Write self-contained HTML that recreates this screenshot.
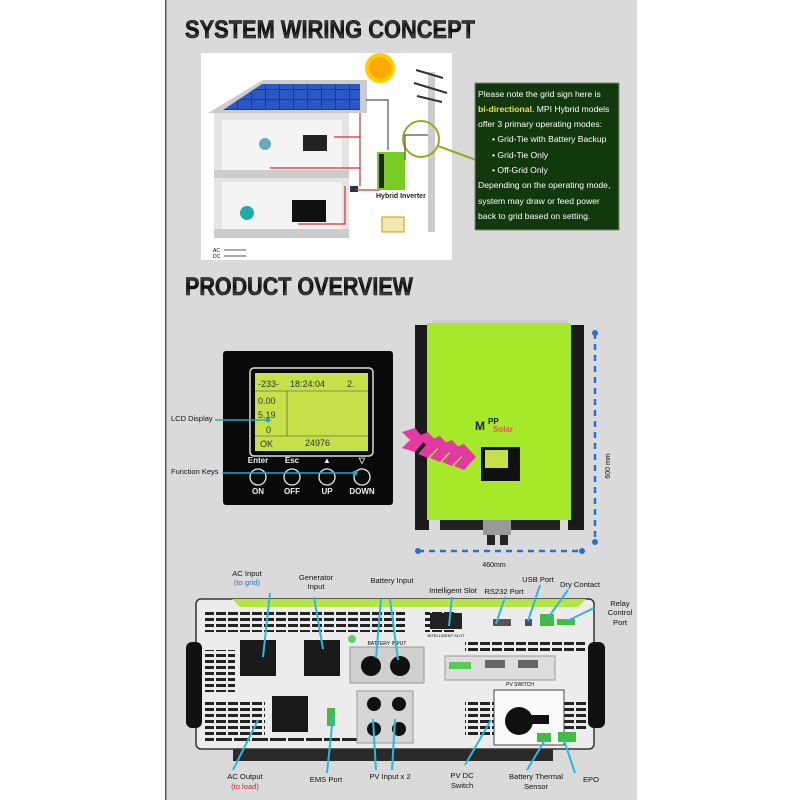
<!DOCTYPE html>
<html><head><meta charset="utf-8"><style>
html,body{margin:0;padding:0;background:#fff}
svg{display:block}
text{font-family:"Liberation Sans",Arial,sans-serif}
</style></head><body>
<svg width="800" height="800" viewBox="0 0 800 800" xmlns="http://www.w3.org/2000/svg">
<defs>
<pattern id="vent" width="12" height="6" patternUnits="userSpaceOnUse"><rect width="10" height="3" fill="#222"/></pattern>
<pattern id="vent2" width="18" height="6" patternUnits="userSpaceOnUse"><rect width="16" height="3" fill="#222"/></pattern>
<linearGradient id="title" x1="0" y1="0" x2="0" y2="1"><stop offset="0" stop-color="#555"/><stop offset="0.5" stop-color="#111"/><stop offset="1" stop-color="#777"/></linearGradient>
<pattern id="solar" width="14" height="10" patternUnits="userSpaceOnUse"><rect width="14" height="10" fill="#1a3a8c"/><rect width="13" height="9" fill="#2b58c4"/></pattern>
</defs>
<rect x="0" y="0" width="800" height="800" fill="#fff"/>
<rect x="165" y="0" width="472" height="800" fill="#dadada"/>
<rect x="165" y="0" width="1.5" height="800" fill="#555"/>

<text x="185" y="38" font-size="25" font-weight="bold" fill="url(#title)" stroke="#000" stroke-width="0.6" textLength="290" lengthAdjust="spacingAndGlyphs">SYSTEM WIRING CONCEPT</text>
<text x="185" y="295" font-size="25" font-weight="bold" fill="url(#title)" stroke="#000" stroke-width="0.6" textLength="228" lengthAdjust="spacingAndGlyphs">PRODUCT OVERVIEW</text>

<rect x="201" y="53" width="251" height="207" fill="#fff"/>
<polygon points="208,113 263,80 367,80 367,113" fill="#ccc"/>
<polygon points="223,110 262,84 360,84 360,110" fill="url(#solar)"/>
<rect x="214" y="113" width="135" height="125" fill="#e4e4e4"/>
<rect x="222" y="120" width="120" height="55" fill="#f4f4f4"/>
<rect x="222" y="182" width="120" height="50" fill="#f4f4f4"/>
<rect x="214" y="170" width="135" height="8" fill="#ccc"/>
<rect x="214" y="229" width="135" height="9" fill="#ccc"/>
<rect x="303" y="135" width="24" height="16" fill="#222"/>
<rect x="292" y="200" width="34" height="22" fill="#111"/>
<circle cx="247" cy="213" r="7" fill="#2aa"/>
<circle cx="265" cy="144" r="6" fill="#6ab"/>
<rect x="350" y="186" width="8" height="6" fill="#333"/>
<path d="M360,113 V174 M334,137 H360 M270,168 H360 M360,174 V186 M345,186 V224 H298 M356,190 H380 M345,224 H330" stroke="#c33" stroke-width="1.2" fill="none"/>
<circle cx="380" cy="68" r="15" fill="#fc0"/>
<circle cx="380" cy="68" r="11" fill="#fa0"/>
<rect x="377" y="152" width="28" height="38" fill="#7c2"/>
<rect x="379" y="154" width="5" height="34" fill="#222"/>
<text x="376" y="198" font-size="7" font-weight="bold" fill="#222">Hybrid Inverter</text>
<rect x="382" y="217" width="22" height="15" fill="#f3e8b0" stroke="#c90"/>
<rect x="428" y="72" width="7" height="160" fill="#ccc"/>
<path d="M416,70 L443,78 M414,83 L447,93 M417,96 L442,102" stroke="#333" stroke-width="2"/>
<circle cx="421" cy="139" r="18" fill="none" stroke="#9a2" stroke-width="2"/>
<path d="M438,146 L476,160" stroke="#9a2" stroke-width="2"/>
<path d="M366,100 H388 V150 M405,160 V135 H428" stroke="#555" stroke-width="1.2" fill="none"/>
<text x="213" y="252" font-size="5">AC</text><text x="213" y="258" font-size="5">DC</text>
<path d="M224,250 H246 M224,256 H246" stroke="#555"/>

<rect x="475" y="83" width="144" height="147" fill="#12380e" stroke="#7a8a6a"/>
<g font-size="8.6" fill="#fff">
<text x="478" y="97">Please note the grid sign here is</text>
<text x="478" y="112"><tspan fill="#e8e05a" font-weight="bold">bi-directional</tspan>.  MPI Hybrid models</text>
<text x="478" y="127">offer 3 primary operating modes:</text>
<text x="492" y="142">• Grid-Tie with Battery Backup</text>
<text x="492" y="158">• Grid-Tie Only</text>
<text x="492" y="173">• Off-Grid Only</text>
<text x="478" y="188">Depending on the operating mode,</text>
<text x="478" y="204">system may draw or feed power</text>
<text x="478" y="219">back to grid based on setting.</text>
</g>

<rect x="223" y="351" width="170" height="154" rx="3" fill="#0a0a0a"/>
<rect x="250" y="368" width="123" height="88" rx="4" fill="none" stroke="#ddd" stroke-width="1.5"/>
<rect x="255" y="373" width="113" height="78" fill="#c6e04a"/>
<g font-family="Liberation Mono" fill="#333" font-size="9">
<text x="258" y="387">-233-</text><text x="290" y="387">18:24:04</text><text x="347" y="387">2.</text>
<text x="258" y="404">0.00</text><text x="258" y="418">5.19</text><text x="266" y="433">0</text>
<text x="260" y="447">OK</text><text x="305" y="446">24976</text>
</g>
<path d="M255,391 H368 M255,436 H368 M287,391 V436" stroke="#444" stroke-width="0.6"/>
<g fill="none" stroke="#eee" stroke-width="1.3">
<circle cx="258" cy="477" r="8"/><circle cx="292" cy="477" r="8"/><circle cx="327" cy="477" r="8"/><circle cx="362" cy="477" r="8"/>
</g>
<g font-size="8" font-weight="bold" fill="#eee" text-anchor="middle">
<text x="258" y="463">Enter</text><text x="292" y="463">Esc</text><text x="327" y="463">▲</text><text x="362" y="463">▽</text>
<text x="258" y="494">ON</text><text x="292" y="494">OFF</text><text x="327" y="494">UP</text><text x="362" y="494">DOWN</text>
</g>
<text x="171" y="421" font-size="7.5" fill="#111">LCD Display</text>
<text x="171" y="474" font-size="7.5" fill="#111">Function Keys</text>
<path d="M215,420 H268" stroke="#2ac" stroke-width="1.5"/><circle cx="268" cy="420" r="2.5" fill="#2ac"/>
<path d="M222,473 H355" stroke="#2ac" stroke-width="1.5"/><circle cx="355" cy="473" r="2.5" fill="#2ac"/>

<rect x="432" y="320" width="136" height="5" fill="#ccc"/>
<rect x="415" y="325" width="14" height="205" fill="#1a1a1a"/>
<rect x="568" y="325" width="16" height="205" fill="#1a1a1a"/>
<rect x="427" y="323" width="144" height="197" fill="#a6e82a"/>
<rect x="440" y="520" width="120" height="10" fill="#222"/>
<rect x="483" y="520" width="28" height="15" fill="#999"/>
<rect x="487" y="535" width="8" height="10" fill="#222"/><rect x="500" y="535" width="8" height="10" fill="#222"/>
<text x="475" y="430" font-size="12" font-weight="bold" fill="#222">M</text>
<text x="488" y="424" font-size="8" font-weight="bold" fill="#222">PP</text>
<text x="493" y="432" font-size="8" font-weight="bold" fill="#e55">Solar</text>
<rect x="481" y="447" width="39" height="34" fill="#111"/>
<rect x="485" y="450" width="23" height="18" fill="#c6e04a"/>
<g fill="#e13aa0">
<polygon points="402,432 415,428 425,440 415,452 402,448 410,440"/>
<polygon points="418,436 428,432 440,445 428,458 418,454 426,445"/>
<polygon points="430,440 440,436 452,449 440,462 430,458 438,449"/>
<polygon points="442,444 452,440 464,453 452,466 442,462 450,453"/>
<polygon points="454,448 464,444 476,457 464,470 454,466 462,457"/>
</g>
<path d="M595,333 V542 M418,551 H582" stroke="#2a6fcc" stroke-width="2.5" stroke-dasharray="6,5"/>
<circle cx="595" cy="333" r="3" fill="#2a6fcc"/><circle cx="595" cy="542" r="3" fill="#2a6fcc"/>
<circle cx="418" cy="551" r="3" fill="#2a6fcc"/><circle cx="582" cy="551" r="3" fill="#2a6fcc"/>
<text x="610" y="466" font-size="7" fill="#111" transform="rotate(-90 610 466)" text-anchor="middle">600 mm</text>
<text x="494" y="567" font-size="7" fill="#111" text-anchor="middle">460mm</text>

<!-- back panel -->
<rect x="233" y="748" width="320" height="13" fill="#2a2a2a"/>
<rect x="196" y="599" width="398" height="150" rx="5" fill="#ececec" stroke="#333" stroke-width="1.5"/>
<polygon points="232,599 586,599 578,607 240,607" fill="#b5e640"/>
<rect x="186" y="642" width="16" height="86" rx="6" fill="#111"/>
<rect x="588" y="642" width="17" height="86" rx="6" fill="#111"/>
<rect x="205" y="612" width="200" height="20" fill="url(#vent)"/>
<rect x="425" y="612" width="30" height="20" fill="url(#vent)"/>
<rect x="465" y="640" width="120" height="14" fill="url(#vent)"/>
<rect x="205" y="650" width="30" height="42" fill="url(#vent)"/>
<rect x="205" y="700" width="60" height="36" fill="url(#vent)"/>
<rect x="465" y="700" width="40" height="38" fill="url(#vent)"/>
<rect x="548" y="700" width="38" height="30" fill="url(#vent)"/>
<rect x="205" y="738" width="200" height="6" fill="url(#vent2)"/>
<rect x="430" y="613" width="32" height="16" fill="#222"/>
<text x="446" y="637" font-size="4" text-anchor="middle">INTELLIGENT SLOT</text>
<rect x="240" y="640" width="36" height="36" fill="#1a1a1a"/>
<rect x="304" y="640" width="36" height="36" fill="#1a1a1a"/>
<rect x="272" y="696" width="36" height="36" fill="#1a1a1a"/>
<rect x="350" y="647" width="74" height="36" fill="#cfcfcf" stroke="#999"/>
<circle cx="371" cy="666" r="10" fill="#111"/><circle cx="400" cy="666" r="10" fill="#111"/>
<text x="387" y="645" font-size="5" text-anchor="middle">BATTERY INPUT</text>
<rect x="357" y="691" width="56" height="52" fill="#d6d6d6" stroke="#999"/>
<circle cx="374" cy="704" r="7" fill="#111"/><circle cx="399" cy="704" r="7" fill="#111"/>
<circle cx="374" cy="729" r="7" fill="#111"/><circle cx="399" cy="729" r="7" fill="#111"/>
<rect x="445" y="656" width="110" height="24" fill="#ddd" stroke="#999"/>
<rect x="449" y="662" width="22" height="7" fill="#5c5"/>
<rect x="485" y="660" width="20" height="8" fill="#666"/><rect x="518" y="660" width="20" height="8" fill="#666"/>
<rect x="494" y="690" width="70" height="55" fill="#fafafa" stroke="#444"/>
<circle cx="519" cy="721" r="14" fill="#111"/>
<rect x="519" y="715" width="30" height="9" fill="#111"/>
<text x="520" y="686" font-size="5" text-anchor="middle">PV SWITCH</text>
<rect x="493" y="619" width="18" height="7" fill="#555"/>
<rect x="525" y="619" width="7" height="7" fill="#456"/>
<rect x="540" y="614" width="14" height="12" fill="#4b4"/>
<rect x="557" y="619" width="18" height="6" fill="#4b4"/>
<rect x="327" y="708" width="8" height="18" fill="#4b4"/>
<rect x="537" y="733" width="14" height="9" fill="#4b4"/>
<rect x="558" y="732" width="18" height="10" fill="#4b4"/>
<circle cx="352" cy="639" r="4" fill="#6c6"/>

<g stroke="#2ab8e0" stroke-width="2" fill="none">
<path d="M270,593 L263,657"/><path d="M314,597 L323,649"/>
<path d="M381,599 L376,658"/><path d="M390,599 L398,660"/>
<path d="M452,597 L449,626"/><path d="M505,597 L496,624"/>
<path d="M540,585 L528,621"/><path d="M568,590 L548,618"/><path d="M594,608 L567,621"/>
<path d="M233,770 L258,720"/><path d="M327,773 L333,716"/>
<path d="M376,770 L373,719"/><path d="M392,770 L395,719"/>
<path d="M465,765 L491,720"/><path d="M527,770 L545,740"/><path d="M575,773 L564,740"/>
</g>
<g font-size="7.6" fill="#111" text-anchor="middle">
<text x="247" y="576">AC Input</text><text x="247" y="585" fill="#2a6fcc">(to grid)</text>
<text x="316" y="580">Generator</text><text x="316" y="589">Input</text>
<text x="392" y="583">Battery Input</text>
<text x="453" y="593">Intelligent Slot</text>
<text x="504" y="594">RS232 Port</text>
<text x="538" y="582">USB Port</text>
<text x="580" y="587">Dry Contact</text>
<text x="620" y="606">Relay</text><text x="620" y="615">Control</text><text x="620" y="625">Port</text>
<text x="245" y="779">AC Output</text><text x="245" y="789" fill="#d22">(to load)</text>
<text x="326" y="782">EMS Port</text>
<text x="390" y="779">PV Input x 2</text>
<text x="462" y="778">PV DC</text><text x="462" y="788">Switch</text>
<text x="536" y="779">Battery Thermal</text><text x="536" y="789">Sensor</text>
<text x="591" y="782">EPO</text>
</g>
</svg>
</body></html>
